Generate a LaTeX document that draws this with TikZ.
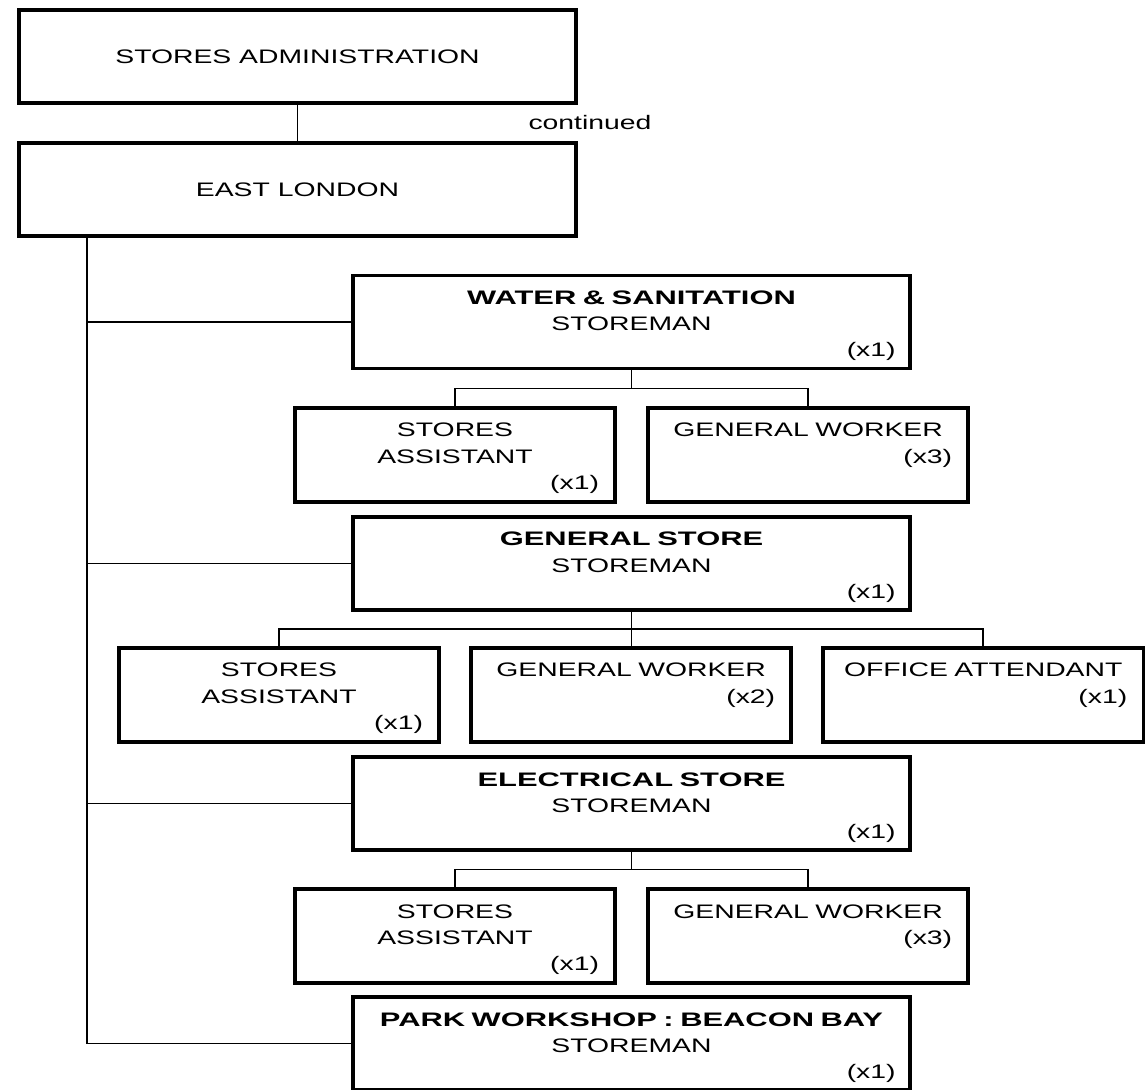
\documentclass[tikz,border=0pt]{standalone}
\usepackage{fontspec}
\setmainfont{Liberation Sans}[FakeStretch=1.45,BoldFeatures={FakeStretch=1.58}]
\usetikzlibrary{positioning,calc}

\newcommand{\tally}[1]{\\\hspace*{0pt plus 1filll}(#1)}

\begin{document}
\begin{tikzpicture}[
      x=0.025cm, y=-0.025cm,
      every node/.style={font=\fontsize{13.9pt}{18.5pt}\selectfont},
      topbox/.style={
        rectangle,
        draw,
        line width=2.4pt,
        outer sep=0pt,
        inner sep=0pt,
        minimum width=13.925cm,
        minimum height=2.325cm
      },
      unit/.style={
        rectangle,
        draw,
        line width=2.4pt,
        outer sep=0pt,
        inner sep=0pt,
        text width=13.2cm,
        align=center,
        text height=0.725cm,
        text depth=1.6cm,
        minimum width=13.925cm
      },
      job/.style={
        unit,
        text width=7.2cm,
        text depth=1.625cm,
        minimum width=8cm
      },
      link/.style={line width=1.1pt}
    ]
    \useasboundingbox (0,0) rectangle (1145,1090);

    % Head office
    \node[topbox] (admin) at (297.5,56.5) {STORES ADMINISTRATION};
    \node[topbox] (east) at (297.5,189.5) {EAST LONDON};
    \node (cont) at (590,123) {continued};

    % Stores
    \node[unit] (water) at (631.5,322) {\textbf{WATER \& SANITATION}\\STOREMAN\tally{x1}};
    \node[unit] (gs) at (631.5,563.5) {\textbf{GENERAL STORE}\\STOREMAN\tally{x1}};
    \node[unit] (elec) at (631.5,803.5) {\textbf{ELECTRICAL STORE}\\STOREMAN\tally{x1}};
    \node[unit] (park) at (631.5,1043.5) {\textbf{PARK WORKSHOP : BEACON BAY}\\STOREMAN\tally{x1}};

    % Staff under each store
    \node[job] (sa1) at (455,455) {STORES\\ASSISTANT\tally{x1}};
    \node[job,right=0.825cm of sa1] (gw1) {GENERAL WORKER\tally{x3}};

    \node[job] (sa2) at (279,695) {STORES\\ASSISTANT\tally{x1}};
    \node[job,right=0.8cm of sa2] (gw2) {GENERAL WORKER\tally{x2}};
    \node[job,right=0.8cm of gw2] (oa) {OFFICE ATTENDANT\tally{x1}};

    \node[job] (sa3) at (455,936) {STORES\\ASSISTANT\tally{x1}};
    \node[job,right=0.825cm of sa3] (gw3) {GENERAL WORKER\tally{x3}};

    \draw[link] (admin) -- (east);
    \draw[link] ($(east.south west)+(68,0)$) coordinate (trunk) |- (park.west);
    \foreach \n in {water,gs,elec}
      \draw[link] (trunk |- \n.west) -- (\n.west);

    \draw[link] (water.south) -- ++(0,19.5);
    \draw[link] (sa1.north) -- ++(0,-19.5) -| (gw1.north);
    \draw[link] (gs.south) -- (gs.south |- gw2.north);
    \draw[link] (sa2.north) -- ++(0,-19) -| (oa.north);
    \draw[link] (elec.south) -- ++(0,19.5);
    \draw[link] (sa3.north) -- ++(0,-19.5) -| (gw3.north);
  \end{tikzpicture}
\end{document}
